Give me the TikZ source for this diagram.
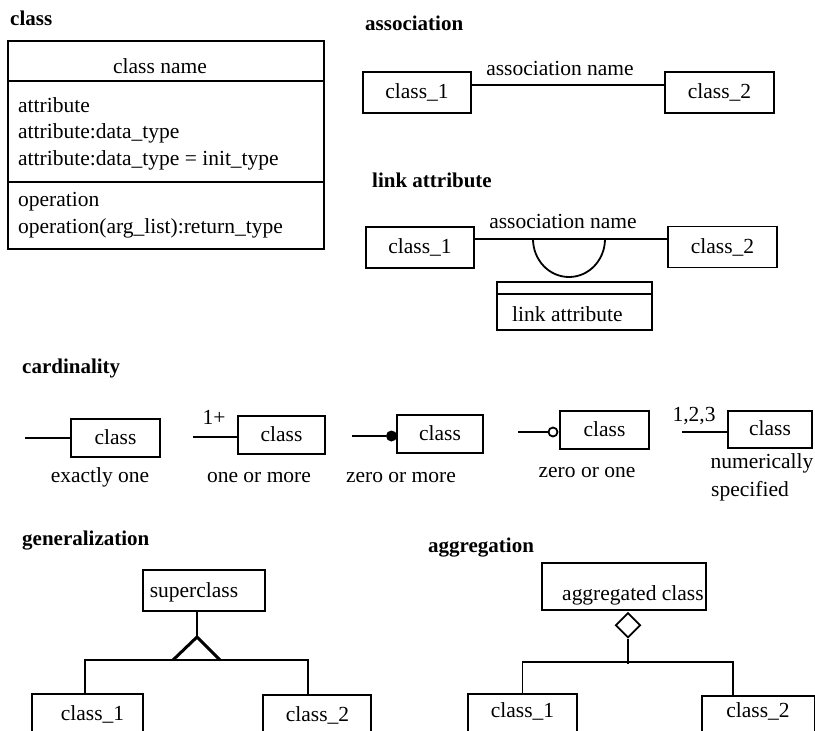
\documentclass[tikz,border=0pt]{standalone}
\usepackage{fontspec}
\setmainfont{Liberation Serif}
\usetikzlibrary{calc,shapes.geometric}
\begin{document}
\begin{tikzpicture}[x=1pt,y=-1pt,
  every node/.style={font=\fontsize{21.5}{25}\selectfont},
  ttl/.style={font=\fontsize{21}{25}\selectfont\bfseries, anchor=base west, inner sep=0},
  txt/.style={anchor=base west, inner sep=0},
  ctxt/.style={anchor=base, inner sep=0},
  ln/.style={line width=1.8pt},
  frame/.style={draw, line width=1.8pt, inner sep=0},
  box/.style={frame, text height=15pt, text depth=3pt},
]
\useasboundingbox (0,0) rectangle (815,731);
\clip (0,0) rectangle (815,731);

% ---------- class ----------
\node[ttl] (tclass) at (10,25) {class};
\node[frame, minimum width=316pt, minimum height=208pt, anchor=north west] (cls) at (7,40) {};
\draw[ln] ($(cls.north west)+(0,41)$) -- ($(cls.north east)+(0,41)$);
\draw[ln] ($(cls.north west)+(0,142)$) -- ($(cls.north east)+(0,142)$);
\node[ctxt] (cname) at (160,73) {class name};
\node[txt] (at1) at (18,112) {attribute};
\node[txt] (at2) at (18,138.5) {attribute:data\_type};
\node[txt] (at3) at (18,165.5) {attribute:data\_type = init\_type};
\node[txt] (op1) at (18,206.5) {operation};
\node[txt] (op2) at (18,233) {operation(arg\_list):return\_type};

% ---------- association ----------
\node[ttl] (tassoc) at (365,30) {association};
\node[box, minimum width=108pt, minimum height=41pt] (a1) at (417,92.5) {class\_1};
\node[box, minimum width=109pt, minimum height=41pt] (a2) at (719.5,92.5) {class\_2};
\draw[ln] ([yshift=7.5pt]a1.east) -- ([yshift=7.5pt]a2.west);
\node[ctxt] (an1) at (560,75) {association name};

% ---------- link attribute ----------
\node[ttl] (tlink) at (372,187) {link attribute};
\node[box, minimum width=108pt, minimum height=41pt] (l1) at (420,247.5) {class\_1};
\node[box, minimum width=109pt, minimum height=41pt] (l2) at (722.5,247) {class\_2};
\draw[ln] ([yshift=8.5pt]l1.east) -- ([yshift=8pt]l2.west);
\node[ctxt] (an2) at (563,228) {association name};
\coordinate (arcL) at (533,239);
\draw[ln] (arcL) arc[start angle=180, end angle=360, x radius=36pt, y radius=38pt];
\node[frame, minimum width=155pt, minimum height=48pt] (lk) at (574.5,306) {};
\draw[ln] ($(lk.north west)+(0,13)$) -- ($(lk.north east)+(0,13)$);
\node[txt] (lkt) at (512,321) {link attribute};

% ---------- cardinality ----------
\node[ttl] (tcard) at (22,373) {cardinality};

\node[box, minimum width=89pt, minimum height=38pt] (c1) at (115.5,438) {class};
\coordinate (c1e) at (25,438);
\draw[ln] (c1e) -- (c1.west);
\node[ctxt] (c1l) at (100,482) {exactly one};

\node[box, minimum width=87pt, minimum height=38pt] (c2) at (281.5,435) {class};
\coordinate (c2e) at (193,437);
\draw[ln] (c2e) -- (c2.west |- c2e);
\node[ctxt] (c2m) at (214,424) {1+};
\node[ctxt] (c2l) at (259,482) {one or more};

\node[box, minimum width=86pt, minimum height=38pt] (c3) at (440,434) {class};
\node[circle, fill, inner sep=0, minimum size=11pt] (c3d) at (391.5,436) {};
\coordinate (c3e) at (352,436);
\draw[ln] (c3e) -- (c3d);
\node[ctxt] (c3l) at (401,482) {zero or more};

\node[box, minimum width=89pt, minimum height=38pt] (c4) at (604.5,430) {class};
\node[circle, draw, line width=1.8pt, inner sep=0, minimum size=9pt] (c4o) at (553,432) {};
\coordinate (c4e) at (518,432);
\draw[ln] (c4e) -- (c4o);
\node[ctxt] (c4l) at (587,477) {zero or one};

\node[box, minimum width=84pt, minimum height=37pt] (c5) at (770,429.5) {class};
\coordinate (c5e) at (682,432);
\draw[ln] (c5e) -- (c5.west |- c5e);
\node[ctxt] (c5m) at (694,421) {1,2,3};
\node[ctxt] (c5l) at (762,468) {numerically};
\node[ctxt] (c5l2) at (750,496) {specified};

% ---------- generalization ----------
\node[ttl] (tgen) at (22,545) {generalization};
\node[frame, minimum width=122pt, minimum height=41pt] (sup) at (204,590.5) {};
\node[ctxt] (supt) at (194,597) {superclass};
\coordinate (gapex) at (197,637);
\draw[ln] ([xshift=-7pt]sup.south) -- (gapex);
\draw[line width=3pt, line join=miter] ($(gapex)+(-24,23)$) -- (gapex) -- ($(gapex)+(23,23)$);
\node[frame, minimum width=111pt, minimum height=60pt, anchor=north] (g1) at (87.5,693) {};
\node[frame, minimum width=108pt, minimum height=60pt, anchor=north] (g2) at (317,694) {};
\draw[ln] ([xshift=-2.5pt]g1.north) -- ++(0,-33) -| ([xshift=-9pt]g2.north);
\node[ctxt] (g1t) at (92.5,720.5) {class\_1};
\node[ctxt] (g2t) at (317.5,721) {class\_2};

% ---------- aggregation ----------
\node[ttl] (tagg) at (428,552) {aggregation};
\node[frame, minimum width=164pt, minimum height=47pt] (agg) at (624,586.5) {};
\node[txt] (aggt) at (562,600) {aggregated class};
\node[diamond, draw, line width=1.8pt, inner sep=0, minimum width=25pt, minimum height=25pt, anchor=north] (dia) at ([xshift=4pt,yshift=-1pt]agg.south) {};
\node[frame, minimum width=109pt, minimum height=60pt, anchor=north] (ac1) at (522.5,693) {};
\node[frame, minimum width=113pt, minimum height=60pt, anchor=north] (ac2) at (758.5,695) {};
\draw[ln] (dia.south) -- ++(0,25);
\draw[ln] (ac1.north) -- ++(0,-31) -| ([xshift=-25.5pt]ac2.north);
\node[ctxt] (ac1t) at (522.5,717) {class\_1};
\node[ctxt] (ac2t) at (758,717) {class\_2};
\end{tikzpicture}
\end{document}
